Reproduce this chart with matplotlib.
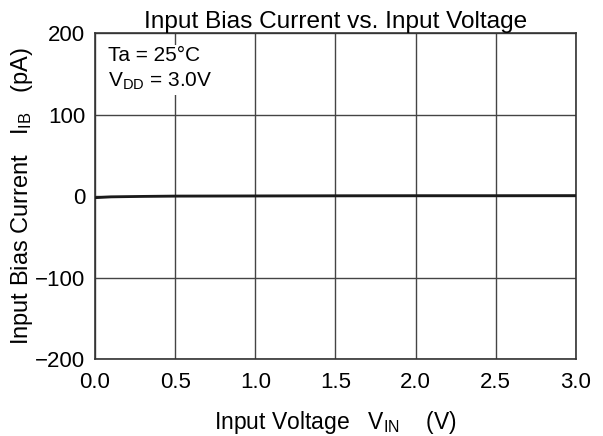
import matplotlib
matplotlib.use("Agg")
import matplotlib.pyplot as plt

plt.rcParams['font.family'] = ['Liberation Sans', 'DejaVu Sans']
plt.rcParams['mathtext.fontset'] = 'custom'
plt.rcParams['mathtext.rm'] = 'Liberation Sans'
plt.rcParams['mathtext.it'] = 'Liberation Sans'

vin = [0.0, 0.05, 0.1, 0.2, 0.3, 0.5, 1.0, 1.5, 2.0, 2.5, 3.0]
ib = [-2.0, -1.5, -1.0, -0.7, -0.4, 0.0, 0.2, 0.4, 0.5, 0.5, 0.6]
xticks = [0.0, 0.5, 1.0, 1.5, 2.0, 2.5, 3.0]
yticks = [-200, -100, 0, 100, 200]

fig = plt.figure(figsize=(6.03, 4.36), dpi=100)
ax = fig.add_axes([0.1575, 0.1766, 0.7975, 0.7474])
ax.plot(vin, ib, color='#1a1a1a', lw=2.0, zorder=3)
ax.set_xlim(0, 3)
ax.set_ylim(-200, 200)
ax.set_xticks(xticks)
ax.set_xticklabels([f"{v:.1f}" for v in xticks])
ax.set_yticks(yticks)
ax.set_yticklabels([str(v).replace('-', '\u2212') for v in yticks])
ax.tick_params(axis='x', length=0, labelsize=16, pad=9)
ax.tick_params(axis='y', length=0, labelsize=16, pad=7)
ax.grid(True, color='#444444', lw=1.0)
for s in ax.spines.values():
    s.set_color('#333333')
    s.set_linewidth(1.2)
ax.set_xlabel(r"Input Voltage   $\mathregular{V_{IN}}$    (V)", fontsize=16.5, labelpad=12)
ax.set_ylabel(r"Input Bias Current   $\mathregular{I_{IB}}$   (pA)", fontsize=17, labelpad=0)
ax.set_title("Input Bias Current vs. Input Voltage", fontsize=17.6, pad=3)
ax.text(0.028, 0.96, "Ta = 25\u00b0C\n" + r"$\mathregular{V_{DD}}$ = 3.0V", transform=ax.transAxes,
        ha='left', va='top', fontsize=15, linespacing=1.35, zorder=4,
        bbox=dict(facecolor='white', edgecolor='none', pad=2))
fig.savefig("out.png", dpi=100)
